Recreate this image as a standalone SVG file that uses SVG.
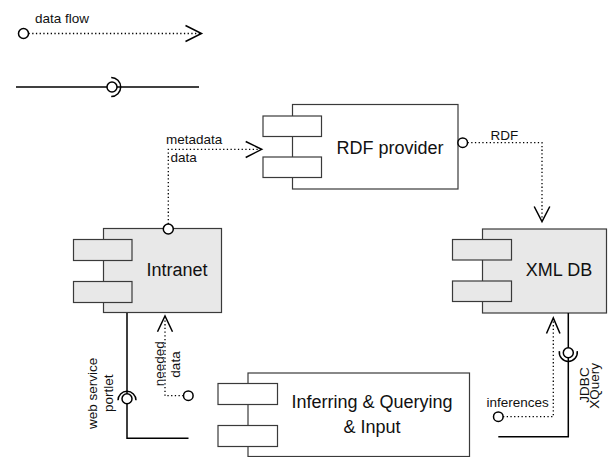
<svg xmlns="http://www.w3.org/2000/svg" width="612" height="457" viewBox="0 0 612 457">
<style>
.box{stroke:#3a3a3a;stroke-width:1.2}
.gray{fill:#e8e8e8}
.white{fill:#ffffff}
.title{font-family:"Liberation Sans",Arial,sans-serif;font-size:18px;fill:#111;text-anchor:middle}
.lbl{font-family:"Liberation Sans",Arial,sans-serif;font-size:13.5px;fill:#111}
.dot{fill:none;stroke:#000;stroke-width:1.3;stroke-dasharray:1.3 2.4}
.solid{fill:none;stroke:#000;stroke-width:1.5}
.head{fill:none;stroke:#000;stroke-width:1.5}
.end{fill:#fff;stroke:#000;stroke-width:1.5}
</style>
<rect width="612" height="457" fill="#fff"/>
<g id="legend">
  <text class="lbl" x="35" y="23">data flow</text>
  <line class="dot" x1="28.5" y1="33.5" x2="200" y2="33.5"/>
  <polyline class="head" points="185.5,25.5 201.5,33.5 185.5,41.5"/>
  <circle class="end" cx="23.5" cy="33.5" r="5"/>
  <line class="solid" x1="16" y1="87" x2="199" y2="87"/>
  <circle class="end" cx="112" cy="87" r="5"/>
  <path class="solid" d="M 111.2 77.5 A 9.5 9.5 0 1 1 111.2 96.5"/>
</g>
<g id="rdf-provider">
  <rect class="box white" x="292.5" y="104.5" width="165.5" height="84.5"/>
  <rect class="box white" x="263" y="116" width="58.5" height="20.5"/>
  <rect class="box white" x="263" y="157" width="58.5" height="20.5"/>
  <text class="title" x="390" y="154">RDF provider</text>
</g>
<g id="intranet">
  <rect class="box gray" x="103.5" y="228.5" width="118" height="84"/>
  <rect class="box gray" x="73.5" y="239.5" width="58.5" height="21"/>
  <rect class="box gray" x="73.5" y="281.5" width="58.5" height="21"/>
  <text class="title" x="177" y="276">Intranet</text>
</g>
<g id="xml-db">
  <rect class="box gray" x="482.5" y="229" width="124" height="84"/>
  <rect class="box gray" x="452.5" y="239.5" width="59" height="20.5"/>
  <rect class="box gray" x="452.5" y="281" width="59" height="20.5"/>
  <text class="title" x="559" y="275.5">XML DB</text>
</g>
<g id="inferring">
  <rect class="box white" x="248" y="373" width="221.5" height="83.5"/>
  <rect class="box white" x="218" y="383.5" width="59.5" height="21"/>
  <rect class="box white" x="218" y="425.5" width="59.5" height="21"/>
  <text class="title" x="372" y="408">Inferring &amp; Querying</text>
  <text class="title" x="372" y="433">&amp; Input</text>
</g>
<g id="connectors">
  <!-- metadata/data -->
  <polyline class="dot" points="168.3,224 168.3,149.3 259,149.3"/>
  <polyline class="head" points="245.7,141.5 261.7,149.3 245.7,157.5"/>
  <circle class="end" cx="168.3" cy="229" r="5"/>
  <text class="lbl" x="166" y="144.3">metadata</text>
  <text class="lbl" x="170.5" y="161.7">data</text>
  <!-- RDF -->
  <polyline class="dot" points="467.5,142.7 542,142.7 542,219"/>
  <polyline class="head" points="534.2,206.5 542,221.7 549.8,206.5"/>
  <circle class="end" cx="462.7" cy="142.7" r="4.8"/>
  <text class="lbl" x="490.5" y="140">RDF</text>
  <!-- web service portlet -->
  <polyline class="solid" points="127,313 127,438.3 188.5,438.3"/>
  <circle class="end" cx="127" cy="398.7" r="5"/>
  <path class="solid" d="M 118 400.3 A 9 9 0 1 1 136 400.3"/>
  <text class="lbl" transform="translate(97,393.3) rotate(-90)" text-anchor="middle">web service</text>
  <text class="lbl" transform="translate(112.5,393.3) rotate(-90)" text-anchor="middle">portlet</text>
  <!-- needed data -->
  <polyline class="dot" points="183.5,395.7 165,395.7 165,319"/>
  <polyline class="head" points="157.5,331.7 165,316 172.5,331.7"/>
  <circle class="end" cx="188.3" cy="395.7" r="4.8"/>
  <text class="lbl" transform="translate(163.5,363.7) rotate(-90)" text-anchor="middle">needed</text>
  <text class="lbl" transform="translate(179.5,364.5) rotate(-90)" text-anchor="middle">data</text>
  <!-- JDBC XQuery -->
  <polyline class="solid" points="568.3,313 568.3,436.7 498.3,436.7"/>
  <circle class="end" cx="568.3" cy="352.7" r="5"/>
  <path class="solid" d="M 577.2 351.1 A 9 9 0 1 1 559.4 351.1"/>
  <text class="lbl" transform="translate(588.5,385) rotate(-90)" text-anchor="middle">JDBC</text>
  <text class="lbl" transform="translate(598.5,385.8) rotate(-90)" text-anchor="middle">XQuery</text>
  <!-- inferences -->
  <polyline class="dot" points="503,416.7 553.3,416.7 553.3,321"/>
  <polyline class="head" points="546.5,333.5 553.3,318 560,333.5"/>
  <circle class="end" cx="498.3" cy="416.7" r="4.8"/>
  <text class="lbl" x="486.5" y="407.3">inferences</text>
</g>
</svg>
